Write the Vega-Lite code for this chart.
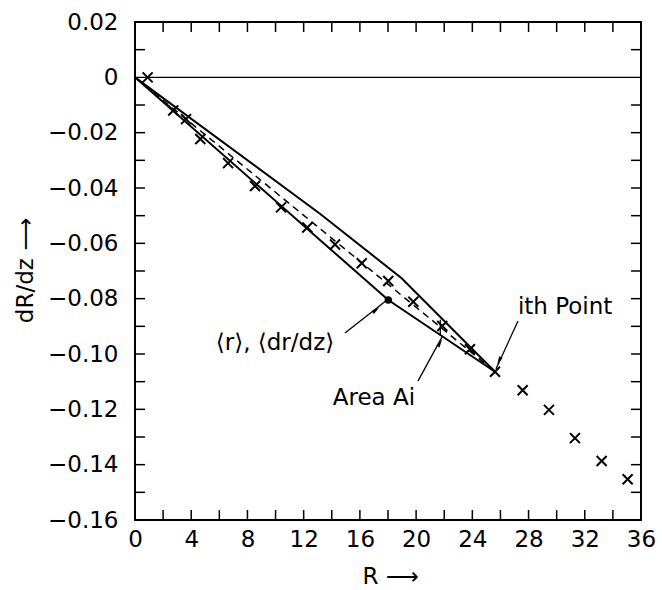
{
  "$schema": "https://vega.github.io/schema/vega-lite/v6.json",
  "width": 506,
  "height": 498,
  "autosize": "none",
  "padding": {"left": 135, "top": 22, "right": 21, "bottom": 70},
  "background": "white",
  "config": {"view": {"stroke": "black", "strokeWidth": 2}},
  "datasets": {
    "crosses": [
      {"R": 0.9, "v": 0.0},
      {"R": 2.72, "v": -0.012},
      {"R": 3.63, "v": -0.0151},
      {"R": 4.65, "v": -0.0223},
      {"R": 6.62, "v": -0.031},
      {"R": 8.54, "v": -0.0393},
      {"R": 10.39, "v": -0.047},
      {"R": 12.26, "v": -0.0543},
      {"R": 14.23, "v": -0.0604},
      {"R": 16.13, "v": -0.0672},
      {"R": 18.02, "v": -0.0736},
      {"R": 19.8, "v": -0.0811},
      {"R": 21.86, "v": -0.0899},
      {"R": 23.83, "v": -0.0983},
      {"R": 25.61, "v": -0.1064},
      {"R": 27.58, "v": -0.1131},
      {"R": 29.45, "v": -0.1202},
      {"R": 31.3, "v": -0.1304},
      {"R": 33.2, "v": -0.1387},
      {"R": 35.05, "v": -0.1453}
    ],
    "upper": [
      {"R": 0, "v": 0},
      {"R": 13.16, "v": -0.0493},
      {"R": 18.97, "v": -0.0726},
      {"R": 25.61, "v": -0.1064}
    ],
    "lower": [
      {"R": 0, "v": 0},
      {"R": 18.02, "v": -0.0805},
      {"R": 25.61, "v": -0.1064}
    ],
    "mean": [
      {"R": 0, "v": 0},
      {"R": 25.61, "v": -0.1064}
    ],
    "segments": [
      {"name": "zero", "R": 0, "v": 0, "R2": 36, "v2": 0},
      {"name": "r", "R": 14.94, "v": -0.0924, "R2": 17.93, "v2": -0.0805},
      {"name": "area", "R": 20.13, "v": -0.1098, "R2": 21.84, "v2": -0.0939},
      {"name": "ith", "R": 27.25, "v": -0.0881, "R2": 25.68, "v2": -0.1054},
      {"name": "strip", "R": 21.72, "v": -0.093, "R2": 21.72, "v2": -0.0876}
    ],
    "ticks": [
      {"R": 2, "v": -0.16, "R2": 2, "v2": -0.1564}, {"R": 4, "v": -0.16, "R2": 4, "v2": -0.1564},
      {"R": 6, "v": -0.16, "R2": 6, "v2": -0.1564}, {"R": 8, "v": -0.16, "R2": 8, "v2": -0.1564},
      {"R": 10, "v": -0.16, "R2": 10, "v2": -0.1564}, {"R": 12, "v": -0.16, "R2": 12, "v2": -0.1564},
      {"R": 14, "v": -0.16, "R2": 14, "v2": -0.1564}, {"R": 16, "v": -0.16, "R2": 16, "v2": -0.1564},
      {"R": 18, "v": -0.16, "R2": 18, "v2": -0.1564}, {"R": 20, "v": -0.16, "R2": 20, "v2": -0.1564},
      {"R": 22, "v": -0.16, "R2": 22, "v2": -0.1564}, {"R": 24, "v": -0.16, "R2": 24, "v2": -0.1564},
      {"R": 26, "v": -0.16, "R2": 26, "v2": -0.1564}, {"R": 28, "v": -0.16, "R2": 28, "v2": -0.1564},
      {"R": 30, "v": -0.16, "R2": 30, "v2": -0.1564}, {"R": 32, "v": -0.16, "R2": 32, "v2": -0.1564},
      {"R": 34, "v": -0.16, "R2": 34, "v2": -0.1564},
      {"R": 2, "v": 0.02, "R2": 2, "v2": 0.0164}, {"R": 4, "v": 0.02, "R2": 4, "v2": 0.0164},
      {"R": 6, "v": 0.02, "R2": 6, "v2": 0.0164}, {"R": 8, "v": 0.02, "R2": 8, "v2": 0.0164},
      {"R": 10, "v": 0.02, "R2": 10, "v2": 0.0164}, {"R": 12, "v": 0.02, "R2": 12, "v2": 0.0164},
      {"R": 14, "v": 0.02, "R2": 14, "v2": 0.0164}, {"R": 16, "v": 0.02, "R2": 16, "v2": 0.0164},
      {"R": 18, "v": 0.02, "R2": 18, "v2": 0.0164}, {"R": 20, "v": 0.02, "R2": 20, "v2": 0.0164},
      {"R": 22, "v": 0.02, "R2": 22, "v2": 0.0164}, {"R": 24, "v": 0.02, "R2": 24, "v2": 0.0164},
      {"R": 26, "v": 0.02, "R2": 26, "v2": 0.0164}, {"R": 28, "v": 0.02, "R2": 28, "v2": 0.0164},
      {"R": 30, "v": 0.02, "R2": 30, "v2": 0.0164}, {"R": 32, "v": 0.02, "R2": 32, "v2": 0.0164},
      {"R": 34, "v": 0.02, "R2": 34, "v2": 0.0164},
      {"R": 0, "v": -0.15, "R2": 0.71, "v2": -0.15}, {"R": 0, "v": -0.14, "R2": 0.71, "v2": -0.14},
      {"R": 0, "v": -0.13, "R2": 0.71, "v2": -0.13}, {"R": 0, "v": -0.12, "R2": 0.71, "v2": -0.12},
      {"R": 0, "v": -0.11, "R2": 0.71, "v2": -0.11}, {"R": 0, "v": -0.1, "R2": 0.71, "v2": -0.1},
      {"R": 0, "v": -0.09, "R2": 0.71, "v2": -0.09}, {"R": 0, "v": -0.08, "R2": 0.71, "v2": -0.08},
      {"R": 0, "v": -0.07, "R2": 0.71, "v2": -0.07}, {"R": 0, "v": -0.06, "R2": 0.71, "v2": -0.06},
      {"R": 0, "v": -0.05, "R2": 0.71, "v2": -0.05}, {"R": 0, "v": -0.04, "R2": 0.71, "v2": -0.04},
      {"R": 0, "v": -0.03, "R2": 0.71, "v2": -0.03}, {"R": 0, "v": -0.02, "R2": 0.71, "v2": -0.02},
      {"R": 0, "v": -0.01, "R2": 0.71, "v2": -0.01}, {"R": 0, "v": 0.01, "R2": 0.71, "v2": 0.01},
      {"R": 36, "v": -0.15, "R2": 35.29, "v2": -0.15}, {"R": 36, "v": -0.14, "R2": 35.29, "v2": -0.14},
      {"R": 36, "v": -0.13, "R2": 35.29, "v2": -0.13}, {"R": 36, "v": -0.12, "R2": 35.29, "v2": -0.12},
      {"R": 36, "v": -0.11, "R2": 35.29, "v2": -0.11}, {"R": 36, "v": -0.1, "R2": 35.29, "v2": -0.1},
      {"R": 36, "v": -0.09, "R2": 35.29, "v2": -0.09}, {"R": 36, "v": -0.08, "R2": 35.29, "v2": -0.08},
      {"R": 36, "v": -0.07, "R2": 35.29, "v2": -0.07}, {"R": 36, "v": -0.06, "R2": 35.29, "v2": -0.06},
      {"R": 36, "v": -0.05, "R2": 35.29, "v2": -0.05}, {"R": 36, "v": -0.04, "R2": 35.29, "v2": -0.04},
      {"R": 36, "v": -0.03, "R2": 35.29, "v2": -0.03}, {"R": 36, "v": -0.02, "R2": 35.29, "v2": -0.02},
      {"R": 36, "v": -0.01, "R2": 35.29, "v2": -0.01}, {"R": 36, "v": 0.01, "R2": 35.29, "v2": 0.01}
    ],
    "heads": [
      {"name": "r", "R": 17.15, "v": -0.0841},
      {"name": "area", "R": 21.7, "v": -0.096},
      {"name": "ith", "R": 25.9, "v": -0.1025}
    ],
    "texts": [
      {"label": "⟨r⟩, ⟨dr/dz⟩", "R": 9.96, "v": -0.096},
      {"label": "Area Ai", "R": 17.0, "v": -0.1159},
      {"label": "ith Point", "R": 30.6, "v": -0.083}
    ]
  },
  "encoding": {
    "x": {
      "field": "R", "type": "quantitative",
      "scale": {"domain": [0, 36], "nice": false, "zero": false},
      "axis": {
        "orient": "bottom",
        "values": [0, 4, 8, 12, 16, 20, 24, 28, 32, 36],
        "format": "d",
        "title": "R ⟶",
        "titleX": 255, "titleY": 63, "titleAlign": "center", "titleBaseline": "alphabetic",
        "titleFont": "DejaVu Sans", "titleFontSize": 23, "titleFontWeight": "normal", "titleColor": "black",
        "labelFont": "DejaVu Sans", "labelFontSize": 23, "labelColor": "black",
        "labelFlush": false, "labelOverlap": false, "labelPadding": 8,
        "ticks": false, "tickSize": 0, "grid": false, "domain": false
      }
    },
    "y": {
      "field": "v", "type": "quantitative",
      "scale": {"domain": [-0.16, 0.02], "nice": false, "zero": false},
      "axis": {
        "orient": "left",
        "values": [-0.16, -0.14, -0.12, -0.1, -0.08, -0.06, -0.04, -0.02, 0, 0.02],
        "labelExpr": "datum.value == 0 ? '0' : format(datum.value, '.2f')",
        "title": "dR/dz ⟶",
        "titleX": -110, "titleY": 248, "titleAngle": -90, "titleAlign": "center", "titleBaseline": "middle",
        "titleFont": "DejaVu Sans", "titleFontSize": 23, "titleFontWeight": "normal", "titleColor": "black",
        "labelFont": "DejaVu Sans", "labelFontSize": 23, "labelColor": "black",
        "labelFlush": false, "labelOverlap": false, "labelPadding": 17,
        "ticks": false, "tickSize": 0, "grid": false, "domain": false
      }
    }
  },
  "layer": [
    {"data": {"name": "ticks"}, "mark": {"type": "rule", "color": "black", "strokeWidth": 1.5}, "encoding": {"x2": {"field": "R2"}, "y2": {"field": "v2"}}},
    {"data": {"name": "upper"}, "mark": {"type": "line", "color": "black", "strokeWidth": 2}},
    {"data": {"name": "lower"}, "mark": {"type": "line", "color": "black", "strokeWidth": 2}},
    {"data": {"name": "mean"}, "mark": {"type": "line", "color": "black", "strokeWidth": 1.5, "strokeDash": [7, 5]}},
    {"data": {"name": "crosses"}, "mark": {"type": "point", "shape": "M-1,-1L1,1M1,-1L-1,1", "size": 100, "filled": false, "stroke": "black", "strokeWidth": 2, "opacity": 1}},
    {"data": {"name": "lower"}, "transform": [{"filter": "datum.R == 18.02"}], "mark": {"type": "point", "shape": "circle", "size": 55, "filled": true, "color": "black", "opacity": 1}},
    {"data": {"name": "segments"}, "mark": {"type": "rule", "color": "black", "strokeWidth": 1.3}, "encoding": {"x2": {"field": "R2"}, "y2": {"field": "v2"}}},
    {"data": {"name": "heads"}, "transform": [{"filter": "datum.name == 'r'"}], "mark": {"type": "point", "shape": "M0,-1L0.45,1L-0.45,1Z", "size": 70, "filled": true, "color": "black", "opacity": 1, "angle": 52}},
    {"data": {"name": "heads"}, "transform": [{"filter": "datum.name == 'area'"}], "mark": {"type": "point", "shape": "M0,-1L0.45,1L-0.45,1Z", "size": 70, "filled": true, "color": "black", "opacity": 1, "angle": 30}},
    {"data": {"name": "heads"}, "transform": [{"filter": "datum.name == 'ith'"}], "mark": {"type": "point", "shape": "M0,-1L0.45,1L-0.45,1Z", "size": 70, "filled": true, "color": "black", "opacity": 1, "angle": 205}},
    {"data": {"name": "texts"}, "mark": {"type": "text", "font": "DejaVu Sans", "fontSize": 23, "color": "black", "align": "center", "baseline": "middle"}, "encoding": {"text": {"field": "label"}}}
  ]
}
